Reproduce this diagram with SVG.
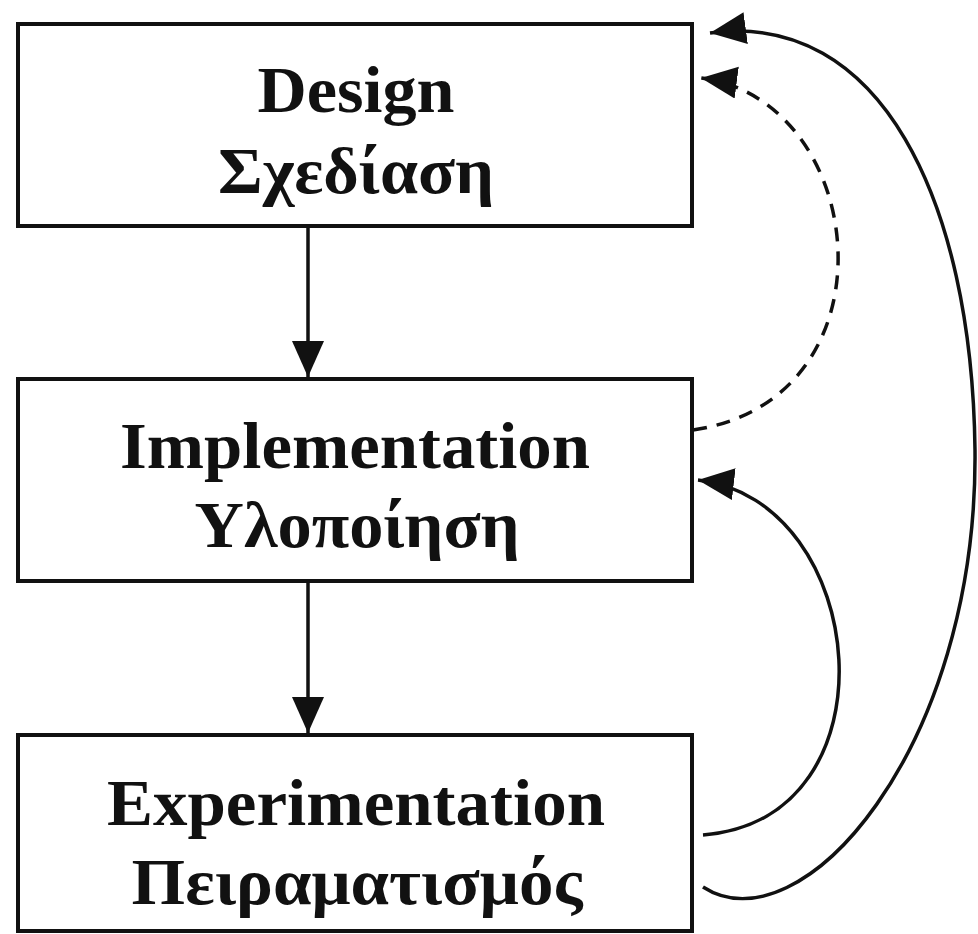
<svg xmlns="http://www.w3.org/2000/svg" width="978" height="934" viewBox="0 0 978 934">
<style>
  .box { fill: #ffffff; stroke: #111111; stroke-width: 4; }
  .lbl { font-family: "Liberation Serif", "Times New Roman", serif; font-weight: bold; font-size: 66px; fill: #111111; text-anchor: middle; }
  .edge { fill: none; stroke: #111111; stroke-width: 3.5; }
  .dash { stroke-dasharray: 14 10; }
</style>
<defs>
  <marker id="ah" markerUnits="userSpaceOnUse" markerWidth="40" markerHeight="36" refX="36" refY="16" orient="auto">
    <path d="M0,0 L36,16 L0,32 Z" fill="#111111"/>
  </marker>
</defs>
<rect width="978" height="934" fill="#ffffff"/>
<g id="design">
  <rect class="box" x="18" y="24" width="674" height="202"/>
  <text class="lbl" x="356" y="112" textLength="197" lengthAdjust="spacingAndGlyphs">Design</text>
  <text class="lbl" x="356" y="193" textLength="276" lengthAdjust="spacingAndGlyphs">Σχεδίαση</text>
</g>
<g id="implementation">
  <rect class="box" x="18" y="379" width="674" height="202"/>
  <text class="lbl" x="355" y="468" textLength="470" lengthAdjust="spacingAndGlyphs">Implementation</text>
  <text class="lbl" x="357" y="547" textLength="325" lengthAdjust="spacingAndGlyphs">Υλοποίηση</text>
</g>
<g id="experimentation">
  <rect class="box" x="18" y="735" width="674" height="196"/>
  <text class="lbl" x="356" y="825" textLength="498" lengthAdjust="spacingAndGlyphs">Experimentation</text>
  <text class="lbl" x="357" y="904" textLength="451" lengthAdjust="spacingAndGlyphs">Πειραματισμός</text>
</g>
<g id="connectors">
  <path class="edge" d="M308 228 L308 377" marker-end="url(#ah)"/>
  <path class="edge" d="M308 583 L308 733" marker-end="url(#ah)"/>
  <path class="edge dash" d="M693 430 C900 400, 870 100, 701 78" marker-end="url(#ah)"/>
  <path class="edge" d="M703 835 C900 820, 870 500, 698 480" marker-end="url(#ah)"/>
  <path class="edge" d="M703 887 C800 950, 978 750, 975 450 C972 200, 880 10, 710 33" marker-end="url(#ah)"/>
</g>
</svg>
